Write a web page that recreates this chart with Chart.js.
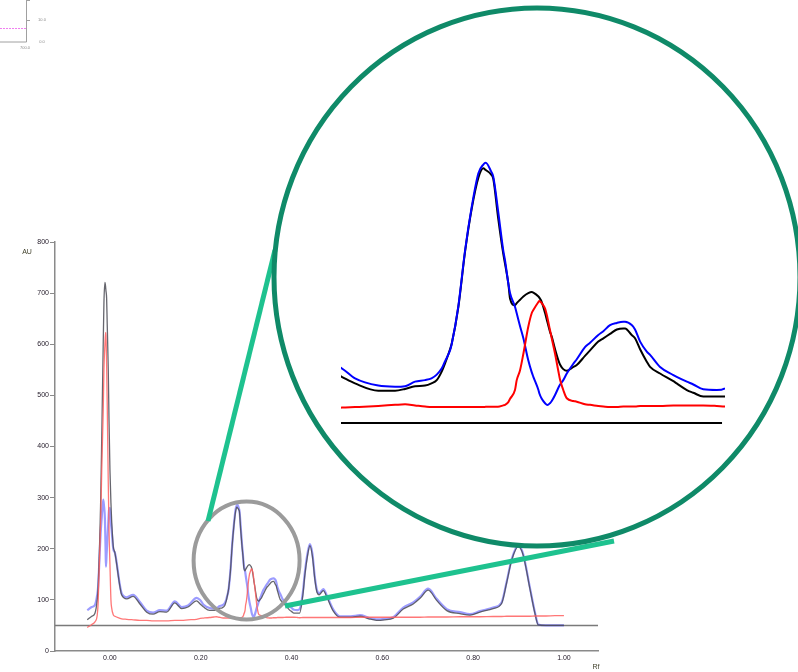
<!DOCTYPE html>
<html>
<head>
<meta charset="utf-8">
<script src="https://cdn.jsdelivr.net/npm/chart.js@4.4.1/dist/chart.umd.min.js"></script>
<style>
  html, body { margin: 0; padding: 0; background: #fff; }
  #wrap { position: relative; width: 798px; height: 672px; overflow: hidden; }
  #mainChart { position: absolute; left: 0; top: 0; }
  #zoomChart { position: absolute; left: 341px; top: 150px; }
</style>
</head>
<body>
<div id="wrap">
  <canvas id="mainChart" width="798" height="672"></canvas>
  <canvas id="zoomChart" width="384" height="280"></canvas>
</div>
<script>
// --- data (Rf vs AU) ---
const rf = [
  -0.050,-0.040,-0.033,-0.028,-0.026,-0.0205,-0.018,-0.0148,-0.0132,-0.011,-0.0095,-0.0088,-0.0073,-0.006,-0.0037,-0.002,0.000,0.0022,0.0037,0.0073,0.011,0.022,0.0257,0.037,0.051,0.066,0.081,0.095,0.110,0.125,0.143,0.158,0.172,0.191,
  0.1987,0.2063,0.2196,0.2292,0.2349,0.2406,0.2463,0.2500,0.2530,0.2559,0.2577,0.2606,0.2616,0.2653,0.2692,0.2730,0.2768,0.2796,0.2810,0.2840,0.2853,0.2880,0.2910,0.2920,0.2939,0.2949,0.2977,0.2987,0.3006,0.3025,0.3053,0.3073,0.3082,0.3111,0.3116,0.3130,0.3149,0.3162,0.3177,0.3187,0.3206,0.3225,0.3235,0.3253,0.3273,0.3311,0.3330,0.3377,0.3406,0.3453,0.3482,0.3520,0.3559,0.3596,0.3606,0.3644,0.3663,0.3692,0.3730,0.3749,0.3806,0.3882,0.3901,0.3959,0.3996,0.4053,0.4130,0.4177,
  0.425,0.4295,0.435,0.4405,0.446,0.4515,0.456,0.461,0.470,0.478,0.492,0.5066,0.530,0.551,0.570,0.587,0.605,0.624,0.646,0.668,0.683,0.701,0.7196,0.742,0.771,0.793,0.815,0.844,0.8627,0.8737,0.885,0.8994,0.910,0.925,0.936,0.9435,0.960,0.980,1.000
];
const blackAU = [
  61,68,74,100,126,290,420,600,682,721,712,705,690,640,551,450,355,290,257,205,192,126,110,102,107,92,76,72,77,76,94,83,86,98,
  92,86,79.4,79.4,81,83.5,84,86,89,97,104,117,122.5,155,206,245,273,281.5,280,276,272,237.5,204,195,177,163,157,159,162,165,168,169,168.5,165,164,160,150,142,133,128.5,117,107,103,99,97.5,101,102.7,111,116,124,127,131,135,136,136,130,127,117,105.7,101,95,88,86,80,77.5,74,74,74,
  110,150,185,206,185,139,115,110,118,105,78,66,66,68,63,60,61,64,82,92,103,119,99,79,73,70,76,83,93,133,178,204,188,122,74,51,50,50,50
];
const blueAU = [
  80,86,90,110,126,230,262,296,285,257,195,165,190,211,250,276,280,250,237,200,192,128,113,105,110,96,79,75,80,79,97,86,89,104,
  99.7,90.6,84,83,83.5,87.6,89,90.6,94,99.7,106,116,122,155.7,207,246.6,277,285,286.6,279,274,243.6,207,198,177,168,155.7,149.7,138,127,107,96,92,80,77,72,68,66.4,68,70,75.5,82,85,89,95,104,108,119,123,130,133.5,139,141,142,142,139,135,124,115,112,101,93.6,92,87.6,85,80.6,80,81.5,
  115,155,190,209,190,143,119,113,121,108,81,68,68,70,65,62,63,66,85,95,106,122,102,82,76,72,78,85,95,135,180,206,190,124,76,52,50,50,50
];
const redAU = [
  46,52,57,70,94,250,355,470,551,600,623,618,560,486,330,235,170,100,85,71,68,64,63,62,61,60,60,59,59,59,60,60,61,62,
  64,64.5,65.5,66.5,67,66,65,64.5,64.5,64.5,64.5,64.5,64.5,64.5,64.5,64.5,64.5,64.5,64.7,64.8,64.8,64.8,66,66.5,69,72,80,89,98,113,137.5,150,152.7,160,161,159,154,146,134.5,127,113,97,89,80,72.5,70,69.4,67,66.5,65.5,65,64.5,64.5,65,65,65,65,65.5,65.5,65.5,65.5,66,66,66,66,66,65.5,65,
  65.5,65.5,65.5,65.5,65.5,65.5,65.5,65.5,65.5,65.5,65.5,65.5,65.5,66,66,66,66,66,66,66,66,66.5,66.5,66.5,67,67,67,67.5,67.5,68,68,68,68,68,68.5,68.5,68.5,69,69
];
const xTicks = [0.00, 0.20, 0.40, 0.60, 0.80, 1.00];
const yTicks = [0, 100, 200, 300, 400, 500, 600, 700, 800];
const baselineAU = 50;
const mainRange = [-0.121, 1.075];
const zoomRange = [0.1983, 0.4177];
const zoomBaseEnd = 0.4160;

function pts(vals) {
  return rf.map((x, i) => ({ x: x, y: vals[i] }));
}

const tickFont = { size: 7, family: 'Liberation Sans, Arial, sans-serif' };

// circles, connector lines, axis captions and the clipped panel in the corner
const decor = {
  id: 'decor',
  afterDraw(chart) {
    const c = chart.ctx;
    const xs = chart.scales.x, ys = chart.scales.y;
    c.save();

    // small leftover panel at top left
    c.strokeStyle = '#a0a0a0'; c.lineWidth = 1;
    c.beginPath(); c.moveTo(26.5, 0); c.lineTo(26.5, 42); c.lineTo(0, 42); c.stroke();
    c.beginPath(); c.moveTo(27, 20.5); c.lineTo(30, 20.5); c.moveTo(27, 0.5); c.lineTo(30, 0.5); c.stroke();
    c.strokeStyle = '#f080f0'; c.setLineDash([2, 1]);
    c.beginPath(); c.moveTo(0, 28.5); c.lineTo(26, 28.5); c.stroke();
    c.setLineDash([]);
    c.fillStyle = '#8a8a8a'; c.font = '4px Liberation Sans, Arial, sans-serif';
    c.textBaseline = 'middle'; c.textAlign = 'center';
    c.fillText('10.0', 42, 20); c.fillText('0.0', 42, 42); c.fillText('700.0', 25, 48);

    // axis captions
    c.fillStyle = '#3e3e28'; c.font = '7px Liberation Sans, Arial, sans-serif';
    c.fillText('AU', 27, 252);
    c.fillText('Rf', 596, 667);

    // grey ring around the zoomed peaks
    c.strokeStyle = '#9b9b9b'; c.lineWidth = 4;
    c.beginPath();
    c.ellipse(xs.getPixelForValue(0.301), ys.getPixelForValue(177), 53, 59, 0, 0, 2 * Math.PI);
    c.stroke();

    // connectors
    c.strokeStyle = '#1ec28f'; c.lineWidth = 5; c.lineCap = 'butt';
    c.beginPath(); c.moveTo(208, 521); c.lineTo(275, 250); c.stroke();
    c.beginPath(); c.moveTo(285, 606); c.lineTo(614, 541); c.stroke();

    // big zoom circle
    c.strokeStyle = '#0f8a68'; c.lineWidth = 5;
    c.beginPath(); c.ellipse(537, 277, 263, 269, 0, 0, 2 * Math.PI); c.stroke();

    c.restore();
  }
};

new Chart(document.getElementById('mainChart'), {
  type: 'line',
  data: {
    datasets: [
      { data: pts(redAU), borderColor: 'rgba(255,95,95,0.85)', borderWidth: 1.3 },
      { data: pts(blackAU), borderColor: 'rgba(75,75,85,0.85)', borderWidth: 1.3 },
      { data: pts(blueAU), borderColor: 'rgba(90,90,255,0.6)', borderWidth: 2.2 },
      { data: mainRange.map(x => ({ x: x, y: baselineAU })), borderColor: '#7a7a7a', borderWidth: 1.5 }
    ]
  },
  options: {
    responsive: false,
    animation: false,
    elements: { point: { radius: 0 }, line: { cubicInterpolationMode: 'monotone' } },
    layout: { padding: { top: 242, right: 200, left: 0, bottom: 0 } },
    plugins: { legend: { display: false }, tooltip: { enabled: false } },
    scales: {
      x: {
        type: 'linear', min: mainRange[0], max: mainRange[1],
        afterBuildTicks: s => { s.ticks = xTicks.map(v => ({ value: v })); },
        afterFit: s => { s.height = 21; },
        grid: { display: false, drawTicks: false },
        border: { color: '#8a8a8a', width: 1.5 },
        ticks: { font: tickFont, color: '#221a28', padding: 3, maxRotation: 0, autoSkip: false,
                 callback: v => v.toFixed(2) }
      },
      y: {
        min: 0, max: 800,
        afterBuildTicks: s => { s.ticks = yTicks.map(v => ({ value: v })); },
        afterFit: s => { s.width = 55; },
        grid: { drawOnChartArea: false, tickLength: 5, color: '#8a8a8a' },
        border: { color: '#8a8a8a', width: 1.5 },
        ticks: { font: tickFont, color: '#221a28', padding: 1 }
      }
    }
  },
  plugins: [decor]
});

// enlarged view inside the big circle (same data, narrow Rf window)
new Chart(document.getElementById('zoomChart'), {
  type: 'line',
  data: {
    datasets: [
      { data: pts(redAU), borderColor: '#ff0000', borderWidth: 2 },
      { data: pts(blueAU), borderColor: '#0000ff', borderWidth: 2 },
      { data: pts(blackAU), borderColor: '#000000', borderWidth: 2 },
      { data: [{ x: zoomRange[0], y: baselineAU }, { x: zoomBaseEnd, y: baselineAU }], borderColor: '#000000', borderWidth: 2 }
    ]
  },
  options: {
    responsive: false,
    animation: false,
    elements: { point: { radius: 0 }, line: { cubicInterpolationMode: 'monotone' } },
    layout: { padding: 0 },
    plugins: { legend: { display: false }, tooltip: { enabled: false } },
    scales: {
      x: { type: 'linear', display: false, min: zoomRange[0], max: zoomRange[1] },
      y: { display: false, min: 43.64, max: 298.2 }
    }
  }
});
</script>
</body>
</html>
